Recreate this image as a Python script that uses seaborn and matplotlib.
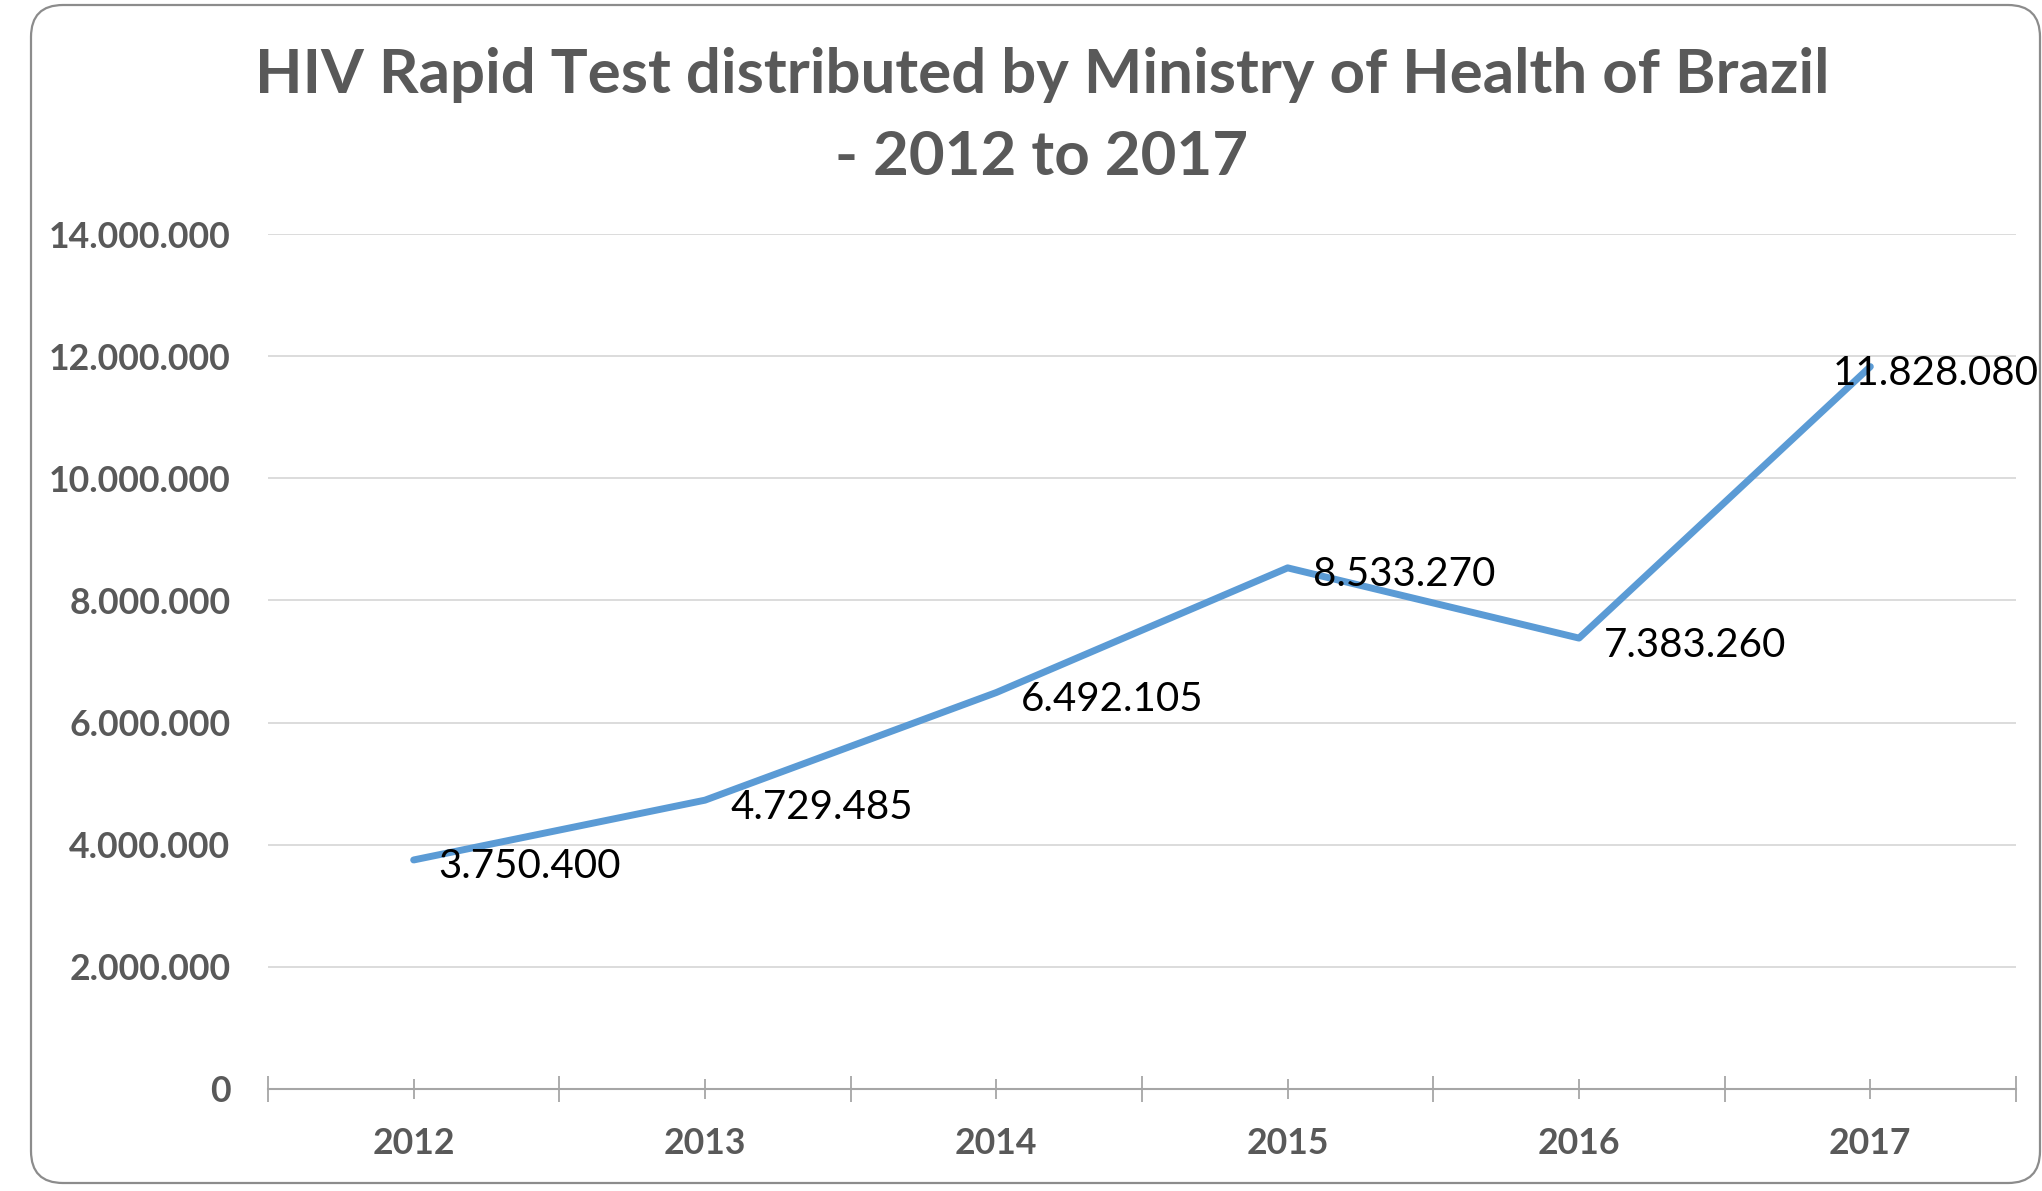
import matplotlib
matplotlib.use("Agg")
import matplotlib.pyplot as plt
from matplotlib.patches import FancyBboxPatch
from matplotlib.ticker import FixedLocator, FuncFormatter
import seaborn as sns
import pandas as pd

# ---- data ----
years = ["2012", "2013", "2014", "2015", "2016", "2017"]
tests = [3750400, 4729485, 6492105, 8533270, 7383260, 11828080]
y_ticks = [0, 2000000, 4000000, 6000000, 8000000, 10000000, 12000000, 14000000]
title = "HIV Rapid Test distributed by Ministry of Health of Brazil\n- 2012 to 2017"

sns.set_theme(style="white")
plt.rcParams["font.family"] = ["Lato", "DejaVu Sans"]

W, H = 2042, 1191
fig = plt.figure(figsize=(W / 100, H / 100), dpi=100)

# background axes for rounded border
bg = fig.add_axes([0, 0, 1, 1])
bg.set_xlim(0, W)
bg.set_ylim(H, 0)
bg.axis("off")
r = 32
bg.add_patch(FancyBboxPatch((31 + r, 5 + r), (2040 - 31) - 2 * r, (1183 - 5) - 2 * r,
                            boxstyle=f"round,pad={r}", fill=False,
                            edgecolor="#8c8c8c", linewidth=1.6))

left, right, top, bottom = 268, 2016, 234, 1089
ax = fig.add_axes([left / W, (H - bottom) / H, (right - left) / W, (bottom - top) / H])
ax.patch.set_alpha(0)

df = pd.DataFrame({"pos": range(len(years)), "value": tests})
sns.lineplot(data=df, x="pos", y="value", ax=ax, color="#5B9BD5", linewidth=5.0,
             solid_capstyle="round")

ax.set_xlim(-0.5, len(years) - 0.5)
ax.set_ylim(0, 14000000)

grey = "#595959"
ax.yaxis.set_major_locator(FixedLocator(y_ticks))
ax.yaxis.set_major_formatter(FuncFormatter(lambda v, p: f"{int(v):,}".replace(",", ".")))
ax.grid(axis="y", color="#D9D9D9", linewidth=1.3)
ax.set_axisbelow(True)

ax.set_xticks(range(len(years)))
ax.set_xticklabels(years)
ax.set_xticks([i - 0.5 for i in range(len(years) + 1)], minor=True)

ax.tick_params(axis="y", left=False, length=0, pad=27, labelsize=25.7, labelcolor=grey)
ax.tick_params(axis="x", which="major", bottom=True, direction="inout", length=15,
               width=1.3, color="#A6A6A6", pad=20, labelsize=25.7, labelcolor=grey)
ax.tick_params(axis="x", which="minor", bottom=True, direction="inout", length=19,
               width=1.3, color="#A6A6A6")
for lab in ax.get_xticklabels() + ax.get_yticklabels():
    lab.set_fontweight("bold")

for s in ["top", "right", "left"]:
    ax.spines[s].set_visible(False)
ax.spines["bottom"].set_color("#A6A6A6")
ax.spines["bottom"].set_linewidth(1.5)
ax.set_xlabel("")
ax.set_ylabel("")

for i, v in enumerate(tests):
    dx = 18 if i < len(tests) - 1 else -27
    ax.annotate(f"{v:,}".replace(",", "."), (i, v), xytext=(dx, -5),
                textcoords="offset points", ha="left", va="center",
                fontsize=29, color="black")

fig.text(1042 / W, 1 - 116 / H, title, ha="center", va="center", fontsize=44.5,
         fontweight="bold", color=grey, linespacing=1.55)

fig.savefig("out.png", dpi=100)
